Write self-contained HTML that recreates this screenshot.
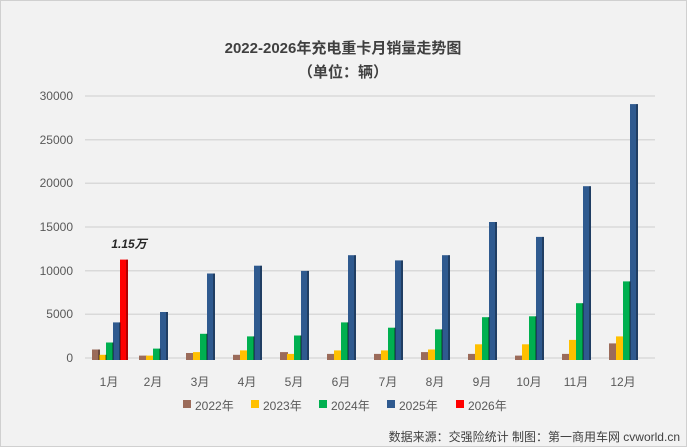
<!DOCTYPE html>
<html><head><meta charset="utf-8"><style>
body{margin:0;background:#fff}
svg{display:block}
text{font-family:"Liberation Sans","Noto Sans CJK SC",sans-serif}
.a{fill:#9b6b5a}.b{fill:#ffc000}.c{fill:#00b050}.d{fill:#2f5a8f}.e{fill:#ff0000}
.s{fill:#000;fill-opacity:.3}
</style></head><body>
<svg width="687" height="447" xmlns="http://www.w3.org/2000/svg">
<rect x="0.5" y="0.5" width="686" height="446" fill="#f2f2f2" stroke="#d0d0d0"/>
<text x="343" y="53" text-anchor="middle" font-size="15" font-weight="bold" fill="#404040">2022-2026年充电重卡月销量走势图</text>
<text x="343" y="77" text-anchor="middle" font-size="15" font-weight="bold" fill="#404040">（单位：辆）</text>
<g stroke="#d9d9d9" stroke-width="1.5">
<line x1="85" x2="655" y1="358" y2="358"/><line x1="85" x2="655" y1="314.3" y2="314.3"/><line x1="85" x2="655" y1="270.7" y2="270.7"/><line x1="85" x2="655" y1="227" y2="227"/><line x1="85" x2="655" y1="183.3" y2="183.3"/><line x1="85" x2="655" y1="139.7" y2="139.7"/><line x1="85" x2="655" y1="96" y2="96"/>
</g>
<g font-size="12" fill="#595959" text-anchor="end">
<text x="73" y="362">0</text><text x="73" y="318">5000</text><text x="73" y="275">10000</text><text x="73" y="231">15000</text><text x="73" y="187">20000</text><text x="73" y="144">25000</text><text x="73" y="100">30000</text>
</g>
<g>
<rect class="a" x="92" y="349.5" width="8" height="10.5"/><rect class="b" x="99" y="354.8" width="8" height="5.2"/><rect class="c" x="106" y="342.5" width="8" height="17.5"/><rect class="d" x="113" y="322.4" width="8" height="37.6"/><rect class="e" x="120" y="259.6" width="8" height="100.4"/>
<rect class="a" x="139" y="355.6" width="8" height="4.4"/><rect class="b" x="146" y="355.6" width="8" height="4.4"/><rect class="c" x="153" y="348.6" width="8" height="11.4"/><rect class="d" x="160" y="312" width="8" height="48"/>
<rect class="a" x="186" y="353" width="8" height="7"/><rect class="b" x="193" y="352.1" width="8" height="7.9"/><rect class="c" x="200" y="333.8" width="8" height="26.2"/><rect class="d" x="207" y="273.5" width="8" height="86.5"/>
<rect class="a" x="233" y="354.8" width="8" height="5.2"/><rect class="b" x="240" y="350.4" width="8" height="9.6"/><rect class="c" x="247" y="336.4" width="8" height="23.6"/><rect class="d" x="254" y="265.7" width="8" height="94.3"/>
<rect class="a" x="280" y="352.1" width="8" height="7.9"/><rect class="b" x="287" y="353.9" width="8" height="6.1"/><rect class="c" x="294" y="335.5" width="8" height="24.5"/><rect class="d" x="301" y="270.9" width="8" height="89.1"/>
<rect class="a" x="327" y="353.9" width="8" height="6.1"/><rect class="b" x="334" y="350.4" width="8" height="9.6"/><rect class="c" x="341" y="322.4" width="8" height="37.6"/><rect class="d" x="348" y="255.2" width="8" height="104.8"/>
<rect class="a" x="374" y="353.9" width="8" height="6.1"/><rect class="b" x="381" y="350.4" width="8" height="9.6"/><rect class="c" x="388" y="327.7" width="8" height="32.3"/><rect class="d" x="395" y="260.4" width="8" height="99.6"/>
<rect class="a" x="421" y="352.1" width="8" height="7.9"/><rect class="b" x="428" y="349.5" width="8" height="10.5"/><rect class="c" x="435" y="329.4" width="8" height="30.6"/><rect class="d" x="442" y="255.2" width="8" height="104.8"/>
<rect class="a" x="468" y="353.9" width="8" height="6.1"/><rect class="b" x="475" y="344.3" width="8" height="15.7"/><rect class="c" x="482" y="317.2" width="8" height="42.8"/><rect class="d" x="489" y="222" width="8" height="138"/>
<rect class="a" x="515" y="355.6" width="8" height="4.4"/><rect class="b" x="522" y="344.3" width="8" height="15.7"/><rect class="c" x="529" y="316.3" width="8" height="43.7"/><rect class="d" x="536" y="236.9" width="8" height="123.1"/>
<rect class="a" x="562" y="353.9" width="8" height="6.1"/><rect class="b" x="569" y="339.9" width="8" height="20.1"/><rect class="c" x="576" y="303.2" width="8" height="56.8"/><rect class="d" x="583" y="186.2" width="8" height="173.8"/>
<rect class="a" x="609" y="343.4" width="8" height="16.6"/><rect class="b" x="616" y="336.4" width="8" height="23.6"/><rect class="c" x="623" y="281.4" width="8" height="78.6"/><rect class="d" x="630" y="104.1" width="8" height="255.9"/>
</g>
<g class="s">
<rect x="98" y="349.5" width="2" height="10.5"/><rect x="105" y="354.8" width="2" height="5.2"/><rect x="112" y="342.5" width="2" height="17.5"/><rect x="119" y="322.4" width="2" height="37.6"/><rect x="126" y="259.6" width="2" height="100.4"/>
<rect x="166" y="312" width="2" height="48"/><rect x="159" y="348.6" width="2" height="11.4"/>
<rect x="206" y="333.8" width="2" height="26.2"/><rect x="213" y="273.5" width="2" height="86.5"/>
<rect x="253" y="336.4" width="2" height="23.6"/><rect x="260" y="265.7" width="2" height="94.3"/>
<rect x="300" y="335.5" width="2" height="24.5"/><rect x="307" y="270.9" width="2" height="89.1"/>
<rect x="347" y="322.4" width="2" height="37.6"/><rect x="354" y="255.2" width="2" height="104.8"/>
<rect x="394" y="327.7" width="2" height="32.3"/><rect x="401" y="260.4" width="2" height="99.6"/>
<rect x="441" y="329.4" width="2" height="30.6"/><rect x="448" y="255.2" width="2" height="104.8"/>
<rect x="488" y="317.2" width="2" height="42.8"/><rect x="495" y="222" width="2" height="138"/>
<rect x="535" y="316.3" width="2" height="43.7"/><rect x="542" y="236.9" width="2" height="123.1"/>
<rect x="582" y="303.2" width="2" height="56.8"/><rect x="589" y="186.2" width="2" height="173.8"/>
<rect x="629" y="281.4" width="2" height="78.6"/><rect x="636" y="104.1" width="2" height="255.9"/>
</g>
<text x="129" y="248" text-anchor="middle" font-size="12" font-weight="bold" font-style="italic" fill="#262626">1.15万</text>
<g font-size="12" fill="#595959" text-anchor="middle">
<text x="109" y="386">1月</text><text x="153" y="386">2月</text><text x="200" y="386">3月</text><text x="247" y="386">4月</text><text x="294" y="386">5月</text><text x="341" y="386">6月</text><text x="388" y="386">7月</text><text x="435" y="386">8月</text><text x="482" y="386">9月</text><text x="529" y="386">10月</text><text x="576" y="386">11月</text><text x="623" y="386">12月</text>
</g>
<g font-size="12" fill="#595959">
<rect x="183" y="400" width="8" height="8" class="a"/><text x="195" y="410">2022年</text>
<rect x="251" y="400" width="8" height="8" class="b"/><text x="263" y="410">2023年</text>
<rect x="319" y="400" width="8" height="8" class="c"/><text x="331" y="410">2024年</text>
<rect x="387" y="400" width="8" height="8" class="d"/><text x="399" y="410">2025年</text>
<rect x="456" y="400" width="8" height="8" class="e"/><text x="468" y="410">2026年</text>
</g>
<text x="680" y="441" text-anchor="end" font-size="12" fill="#404040">数据来源：交强险统计 制图：第一商用车网 cvworld.cn</text>
</svg>
</body></html>
